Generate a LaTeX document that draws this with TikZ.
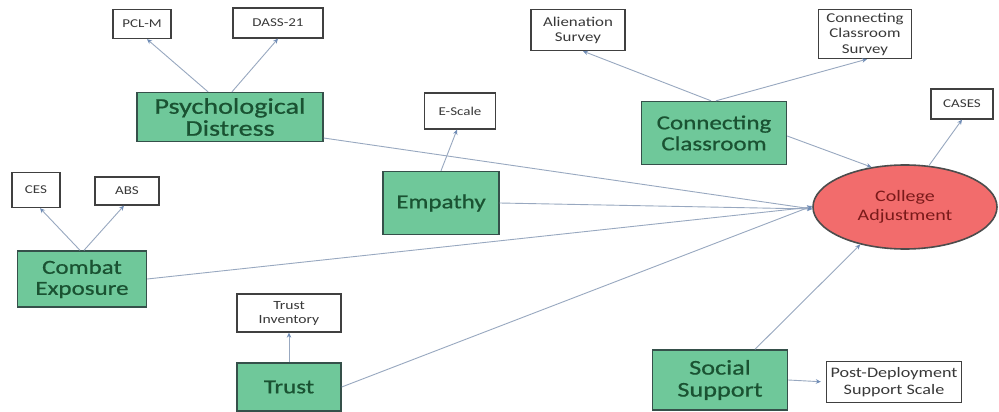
\documentclass[tikz,border=0pt]{standalone}
\usepackage{fontspec}
\usetikzlibrary{arrows.meta,shapes.geometric}
\newfontfamily\calib[FakeStretch=1.25]{Carlito}
\newfontfamily\calibheavy[FakeStretch=1.25,FakeBold=0.7]{Carlito}
\definecolor{boxgreen}{HTML}{6FC89A}
\definecolor{boxedge}{HTML}{35504A}
\definecolor{labgreen}{HTML}{1A5232}
\definecolor{ovalred}{HTML}{F26C6C}
\definecolor{ovaltext}{HTML}{7A1A1A}
\definecolor{smalltext}{HTML}{383838}
\definecolor{linkline}{HTML}{98A8C0}
\definecolor{linktip}{HTML}{6F8CB6}
\tikzset{
  construct/.style={draw=boxedge, line width=1.4pt, fill=boxgreen, align=center,
    text=labgreen, inner sep=1pt, font=\calibheavy\fontsize{20}{21}\selectfont},
  measure/.style={draw=black!75, line width=1.3pt, fill=white, align=center,
    text=smalltext, inner sep=1pt, font=\calib\fontsize{12}{14.5}\selectfont},
  outcome/.style={ellipse, draw=black!70, line width=1.6pt, fill=ovalred, align=center,
    text=ovaltext, inner sep=0pt, font=\calib\fontsize{16}{19}\selectfont},
  link/.style={draw=linkline, line width=0.9pt,
    -{Stealth[length=5pt,width=4.5pt,color=linktip,fill=linktip]}}
}
\begin{document}
\begin{tikzpicture}[x=1pt,y=-1pt]
\useasboundingbox[fill=white] (0,0) rectangle (999,412);

% measurement boxes
\node[measure, minimum width=58pt, minimum height=29pt] (pclm) at (142,24) {PCL-M};
\node[measure, minimum width=90pt, minimum height=30pt] (dass) at (278,23) {DASS-21};
\node[measure, minimum width=71pt, minimum height=36pt] (escale) at (460,111) {E-Scale};
\node[measure, minimum width=48pt, minimum height=35pt] (ces) at (36,190) {CES};
\node[measure, minimum width=64pt, minimum height=28pt] (abs) at (127,191) {ABS};
\node[measure, minimum width=104pt, minimum height=38pt,
      font=\calib\fontsize{12.5}{14}\selectfont] (trustinv) at (289,313) {Trust\\Inventory};
\node[measure, minimum width=94pt, minimum height=41pt,
      font=\calib\fontsize{13.5}{15}\selectfont] (alien) at (578,30) {Alienation\\Survey};
\node[measure, minimum width=93pt, minimum height=49pt,
      font=\calib\fontsize{13.5}{15.5}\selectfont] (ccs) at (865,34) {Connecting\\Classroom\\Survey};
\node[measure, minimum width=62pt, minimum height=30pt] (cases) at (962,104) {CASES};
\node[measure, minimum width=135pt, minimum height=41pt,
      font=\calib\fontsize{14.5}{16.5}\selectfont] (pdss) at (894,382) {Post-Deployment\\Support Scale};

% constructs
\node[construct, minimum width=186pt, minimum height=49pt,
      font=\calibheavy\fontsize{22.5}{22}\selectfont] (psych) at (230,117) {Psychological\\Distress};
\node[construct, minimum width=116pt, minimum height=63pt] (empathy) at (441,203) {Empathy};
\node[construct, minimum width=129pt, minimum height=56pt] (combat) at (82,279) {Combat\\Exposure};
\node[construct, minimum width=104pt, minimum height=48pt] (trust) at (289,387) {Trust};
\node[construct, minimum width=145pt, minimum height=63pt] (conn) at (714,133) {Connecting\\Classroom};
\node[construct, minimum width=135pt, minimum height=60pt,
      font=\calibheavy\fontsize{21}{22}\selectfont] (social) at (720,380) {Social\\Support};

% outcome
\node[outcome, minimum width=184pt, minimum height=84pt] (college) at (905,207) {College\\Adjustment};

% construct -> measures
\draw[link] ([xshift=-22pt]psych.north) -- ([xshift=5pt]pclm.south);
\draw[link] ([xshift=2pt]psych.north) -- (dass.south);
\draw[link] (empathy.north) -- ([xshift=-3pt]escale.south);
\draw[link] ([xshift=-2pt]combat.north) -- ([xshift=4pt]ces.south);
\draw[link] ([xshift=2pt]combat.north) -- ([xshift=-3pt]abs.south);
\draw[link] (trust.north) -- (trustinv.south);
\draw[link] ([xshift=-3pt]conn.north) -- ([xshift=5pt]alien.south);
\draw[link] ([xshift=2pt]conn.north) -- ([xshift=2pt]ccs.south);
\draw[link] (college.60) -- (cases.south);
\draw[link, shorten >=5pt] (social.east) -- (pdss.west);

% constructs -> college adjustment
\draw[link] ([yshift=-21pt]psych.east) -- ([yshift=-2pt]college.west);
\draw[link] (empathy.east) -- ([yshift=-2pt]college.west);
\draw[link] (combat.east) -- (college.west);
\draw[link] (trust.east) -- ([yshift=1pt]college.west);
\draw[link] ([yshift=-3pt]conn.east) -- (college.130);
\draw[link] ([xshift=35pt]social.north) -- (college.220);
\end{tikzpicture}
\end{document}
